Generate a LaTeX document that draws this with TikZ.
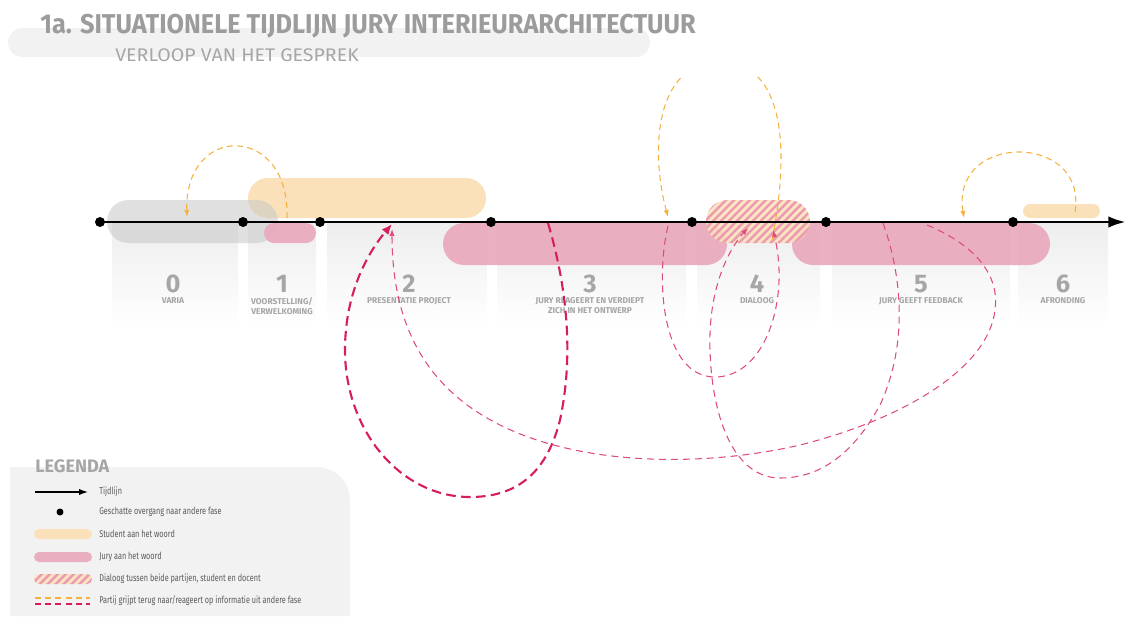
\documentclass[tikz,border=0pt]{standalone}
\usepackage{fontspec}
\setmainfont{Fira Sans}
\usepackage{graphicx}
\usetikzlibrary{arrows.meta,shapes.misc,patterns.meta}
\definecolor{studC}{HTML}{FBE1B9}
\definecolor{juryC}{HTML}{E9A9BC}
\definecolor{hatchC}{HTML}{EB9AB0}
\definecolor{oraC}{HTML}{F4B13E}
\definecolor{redC}{HTML}{D61E5C}
\definecolor{red2C}{HTML}{DE4C7C}
\definecolor{txtC}{HTML}{A6A6A6}
\definecolor{ttlC}{HTML}{9C9C9C}
\definecolor{legC}{HTML}{5A5A5A}
\definecolor{paneC}{HTML}{F2F2F2}
\newcommand{\pxu}{0.02cm}
\newcommand{\cond}[1]{\scalebox{0.74}[1]{#1}}

\begin{document}
\begin{tikzpicture}[x=\pxu,y=-\pxu,
  bar/.style={rounded rectangle,inner sep=0pt,draw=none},
  stud/.style={bar,fill=studC},
  jury/.style={bar,fill=juryC,fill opacity=0.92},
  vari/.style={bar,fill=black!22,fill opacity=0.55},
  dial/.style={bar,fill opacity=0.85,preaction={fill=studC,fill opacity=0.85},
    pattern={Lines[angle=45,distance=3.2pt,line width=1.4pt]},pattern color=hatchC},
  pane/.style={top color=black!7,bottom color=white},
  tl/.style={line width=1.7pt,-{Latex[length=10pt,width=6.5pt]}},
  dot/.style={circle,fill=black,inner sep=0pt,minimum size=10*\pxu},
  num/.style={font=\fontsize{14.5}{15}\selectfont\bfseries,text=txtC,anchor=base,inner sep=0pt},
  lab/.style={font=\fontsize{4.8}{5.8}\selectfont\bfseries,text=txtC,align=center,anchor=north,inner sep=0pt},
  odash/.style={oraC,line width=0.6pt,dash pattern=on 3.4pt off 2.4pt,-{Latex[length=4pt,width=3pt]}},
  rthick/.style={redC,line width=1.2pt,dash pattern=on 5.5pt off 3pt,-{Latex[length=6pt,width=5pt]}},
  rthin/.style={red2C,line width=0.6pt,dash pattern=on 4pt off 2.8pt,-{Latex[length=4pt,width=3pt]}},
  legtxt/.style={font=\fontsize{5.6}{6}\selectfont,text=legC,anchor=west,inner sep=0pt}]
\useasboundingbox (0,0) rectangle (1126,616);
% ---------------- title
\node[bar,fill=paneC,minimum width=642*\pxu,minimum height=29*\pxu] (ttlbg) at (329,42.5) {};
\node[anchor=base west,inner sep=0pt,text=ttlC] (ttl) at (40,33)
  {\scalebox{0.93}[1]{\fontsize{15.5}{16}\selectfont\bfseries 1a. SITUATIONELE TIJDLIJN JURY INTERIEURARCHITECTUUR}};
\node[anchor=base west,inner sep=0pt,text=txtC] (sub) at (115,61)
  {\scalebox{1.07}[1]{\fontsize{10.4}{11}\selectfont VERLOOP VAN HET GESPREK}};
% ---------------- phase panes
\foreach \a/\b in {112/238,248/316,327/487,497/686,697/820,832/1010,1018/1108}
  \shade[pane] (\a,222) rectangle (\b,325);
% ---------------- who speaks
\node[stud,minimum width=238*\pxu,minimum height=40*\pxu] (s12) at (367,198) {};
\node[vari,minimum width=171*\pxu,minimum height=43*\pxu] (v0) at (192.5,221.5) {};
\node[jury,minimum width=52*\pxu,minimum height=20*\pxu] (j1) at (290,233) {};
\node[jury,minimum width=284*\pxu,minimum height=42*\pxu] (j3) at (585,244) {};
\node[jury,minimum width=258*\pxu,minimum height=42*\pxu] (j5) at (921,244) {};
\node[dial,minimum width=104*\pxu,minimum height=43*\pxu] (d4) at (758,221.5) {};
\node[stud,minimum width=77*\pxu,minimum height=14*\pxu] (s6) at (1061.5,211) {};
% ---------------- timeline
\foreach \n/\x in {0/100,1/243,2/320,3/491,4/692,5/826,6/1013}
  \node[dot] (t\n) at (\x,222) {};
\coordinate (tend) at (1126,222);
\draw[tl] (t0.center) -- (tend);
% ---------------- phases
\foreach \n/\x/\t in {0/173/{VARIA},1/282/{VOORSTELLING/\\VERWELKOMING},2/409/{PRESENTATIE PROJECT},
    3/590/{JURY REAGEERT EN VERDIEPT\\ZICH IN HET ONTWERP},4/757/{DIALOOG},5/921/{JURY GEEFT FEEDBACK},
    6/1063/{AFRONDING}}{
  \node[num] (num\n) at (\x,292) {\n};
  \node[lab] (lab\n) at (\x,297) {\t};
}
% ---------------- references back
\coordinate (o1a) at (287,218); \coordinate (o1b) at (187,217);
\draw[odash] (o1a) .. controls (290,123) and (184,123) .. (o1b);
\begin{scope}
\clip (600,76) rectangle (850,250);
\coordinate (o2a) at (772,240); \coordinate (o2b) at (668,217);
\draw[odash] (o2a) .. controls (790,150) and (785,62) .. (720,62)
  .. controls (655,62) and (650,150) .. (o2b);
\end{scope}
\coordinate (o3a) at (1075,212); \coordinate (o3b) at (964,218);
\draw[odash] (o3a) .. controls (1088,132) and (950,132) .. (o3b);
\coordinate (ra1) at (548,223); \coordinate (ra2) at (392,224);
\draw[rthick] (ra1) .. controls (565,280) and (575,350) .. (560,420)
  .. controls (545,480) and (510,497) .. (470,497)
  .. controls (400,497) and (345,430) .. (345,350)
  .. controls (345,290) and (370,250) .. (ra2);
\coordinate (rb1) at (927,225); \coordinate (rb2) at (392,229);
\draw[rthin] (rb1) .. controls (975,245) and (1000,275) .. (995,310)
  .. controls (988,370) and (900,420) .. (800,445)
  .. controls (700,468) and (580,465) .. (500,425)
  .. controls (430,390) and (392,330) .. (rb2);
\coordinate (rc1) at (883,223); \coordinate (rc2) at (748,228);
\draw[rthin] (rc1) .. controls (900,270) and (910,340) .. (880,405)
  .. controls (850,460) and (815,478) .. (780,478)
  .. controls (735,478) and (712,420) .. (710,350)
  .. controls (708,290) and (728,250) .. (rc2);
\coordinate (rd1) at (668,226); \coordinate (rd2) at (773,230);
\draw[rthin] (rd1) .. controls (655,280) and (662,377) .. (715,377)
  .. controls (765,377) and (790,300) .. (rd2);
% ---------------- legend
\fill[paneC] (10,616) -- (10,467) -- (317,467) .. controls (335,467) and (350,482) .. (350,500)
  -- (350,616) -- cycle;
\node[anchor=base west,inner sep=0pt,text=txtC,font=\fontsize{10.3}{11}\selectfont\bfseries] (leg) at (35,472) {LEGENDA};
\coordinate (la1) at (35,492); \coordinate (la2) at (88,492);
\draw[line width=0.7pt,-{Latex[length=5pt,width=3.5pt]}] (la1) -- (la2);
\node[dot,minimum size=7*\pxu] (ld) at (60,512) {};
\node[stud,minimum width=58*\pxu,minimum height=10*\pxu] (ls) at (63,534) {};
\node[jury,minimum width=58*\pxu,minimum height=10*\pxu] (lj) at (63,557) {};
\node[dial,minimum width=58*\pxu,minimum height=10*\pxu] (lh) at (63,579) {};
\coordinate (lo1) at (35,598); \coordinate (lo2) at (90,598);
\coordinate (lr1) at (35,604); \coordinate (lr2) at (90,604);
\draw[odash,-] (lo1) -- (lo2);
\draw[rthick,-,line width=0.8pt,dash pattern=on 3.4pt off 2.4pt] (lr1) -- (lr2);
\node[legtxt] (lt1) at (99,492) {\cond{Tijdlijn}};
\node[legtxt] (lt2) at (99,512) {\cond{Geschatte overgang naar andere fase}};
\node[legtxt] (lt3) at (99,534) {\cond{Student aan het woord}};
\node[legtxt] (lt4) at (99,557) {\cond{Jury aan het woord}};
\node[legtxt] (lt5) at (99,579) {\cond{Dialoog tussen beide partijen, student en docent}};
\node[legtxt] (lt6) at (99,601) {\cond{Partij grijpt terug naar/reageert op informatie uit andere fase}};
\end{tikzpicture}
\end{document}
